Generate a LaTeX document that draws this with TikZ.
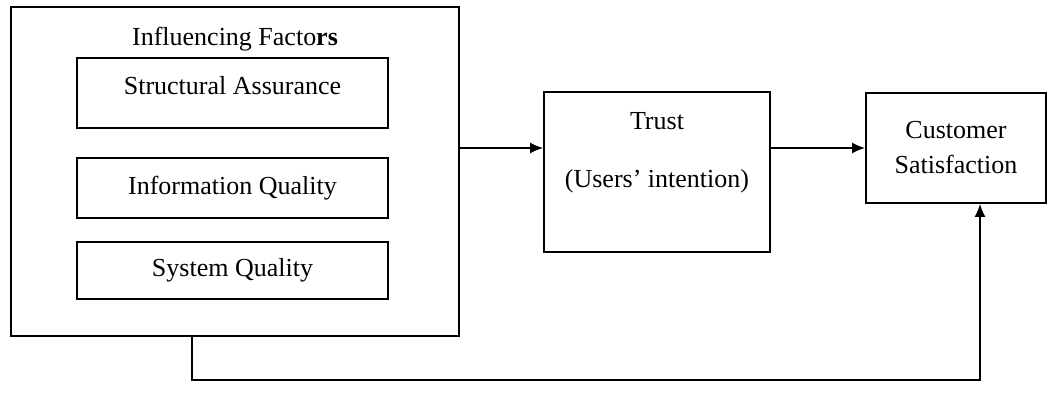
\documentclass[tikz,border=0pt]{standalone}
\usepackage{fontspec}
\setmainfont{Liberation Serif}
\usepackage{tikz}
\usetikzlibrary{calc,positioning,arrows.meta}

\tikzset{
  box/.style={draw,line width=0.9pt,inner sep=0pt},
  txt/.style={inner sep=0pt,font=\fontsize{13}{17.5}\selectfont},
  arr/.style={-{Latex[length=6.5pt,width=5.5pt]},line width=0.8pt}
}

\begin{document}
\begin{tikzpicture}[x=0.5pt,y=-0.5pt]
  \useasboundingbox (0,0) rectangle (1060,396);

  %% Boxes for the influencing factors
  \node[box,minimum width=224pt,minimum height=164.5pt] (fac) at (235,171.5) {};
  \node[txt] (factitle) at (235,39) {Influencing Facto\textbf{rs}};
  \node[box,minimum width=155.5pt,minimum height=35pt] (sa) at (232.5,93) {};
  \node[txt] (satext) at (232.5,86) {Structural Assurance};
  \node[box,txt,minimum width=155.5pt,minimum height=30pt] (iq) at (232.5,188) {Information Quality};
  \node[box,txt,minimum width=155.5pt,minimum height=28.5pt] (sq) at (232.5,270.5) {System Quality};

  %% Trust and satisfaction
  \node[box,minimum width=113pt,minimum height=80pt] (trust) at (657,172) {};
  \node[txt] (trusttext) at (657,121) {Trust};
  \node[txt] (userstext) at (657,181) {(Users’ intention)};
  \node[box,txt,align=center,minimum width=90pt,minimum height=55pt] (cs) at (956,148) {Customer\\Satisfaction};

  %% Connectors
  \draw[arr] (fac.east |- cs.west) -- (trust.west |- cs.west);
  \draw[arr] (trust.east |- cs.west) -- (cs.west);

  \coordinate (lowL) at (192,380);
  \coordinate (lowR) at (980,380);
  \draw[arr,line width=0.7pt] (fac.south -| lowL) -- (lowL) -- (lowR) -- (lowR |- cs.south);
\end{tikzpicture}
\end{document}
